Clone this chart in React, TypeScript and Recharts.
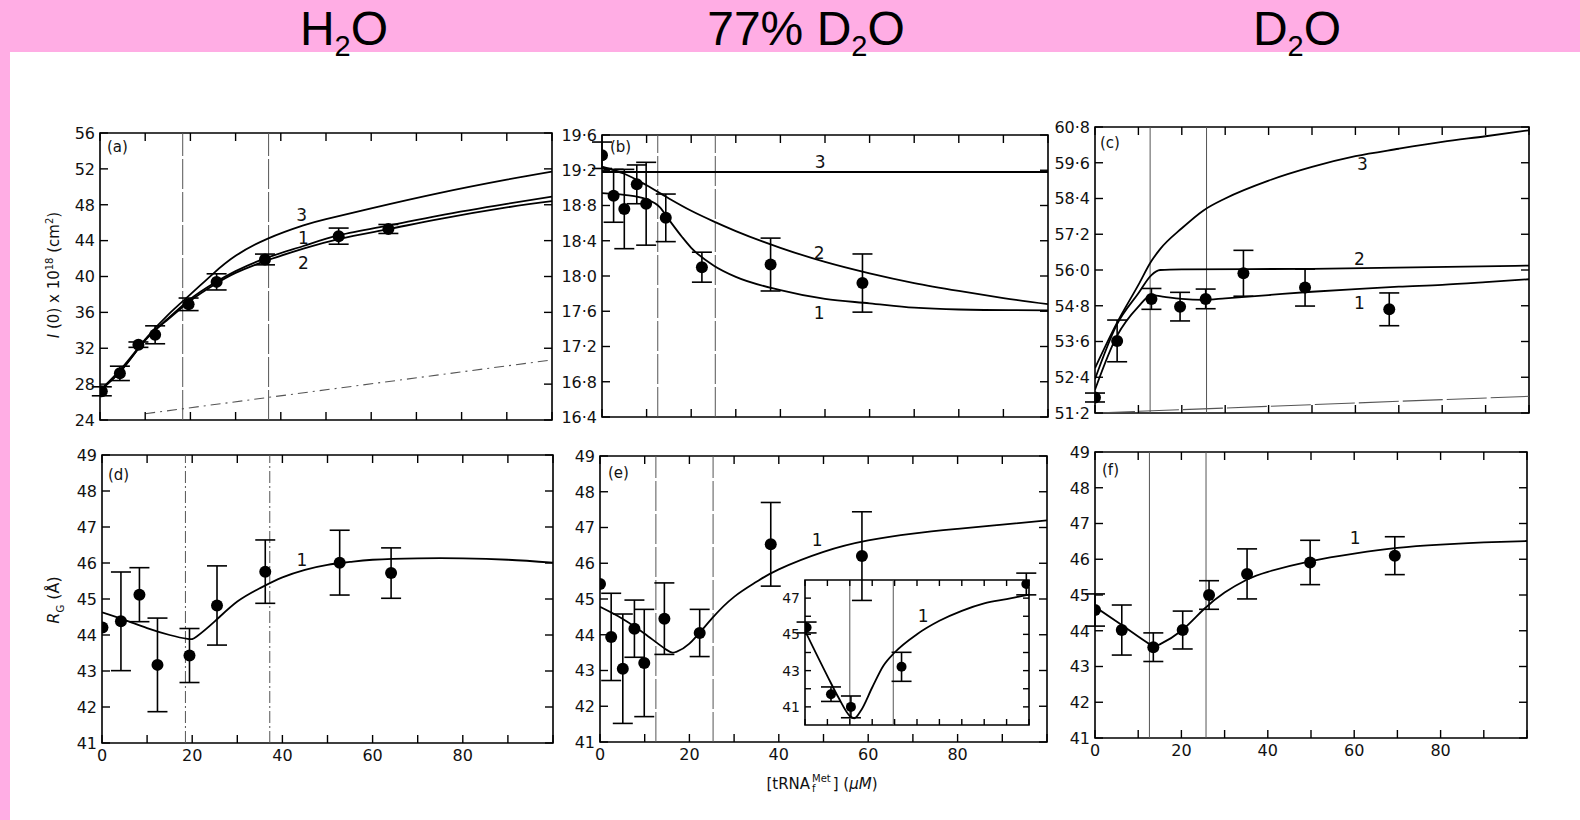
import React from 'react';
import {
  ComposedChart,
  Line,
  Scatter,
  XAxis,
  YAxis,
  ReferenceLine,
  ReferenceArea,
  ErrorBar,
} from 'recharts';

const PINK = '#ffade4';
const FONT = '"DejaVu Sans", sans-serif';

// x axis: [tRNA] in µM
const xTicks = [0, 10, 20, 30, 40, 50, 60, 70, 80, 90, 100];
const xLabelTicks = [0, 20, 40, 60, 80];

// y ticks
const yTicksA = [24, 28, 32, 36, 40, 44, 48, 52, 56];
const yTicksB = [16.4, 16.8, 17.2, 17.6, 18.0, 18.4, 18.8, 19.2, 19.6];
const yTicksC = [51.2, 52.4, 53.6, 54.8, 56.0, 57.2, 58.4, 59.6, 60.8];
const yTicksRg = [41, 42, 43, 44, 45, 46, 47, 48, 49];

// (a) H2O, I(0)
const pointsA = [
  { x: 0.4, y: 27.2, e: 0.5 },
  { x: 4.4, y: 29.2, e: 0.8 },
  { x: 8.5, y: 32.4, e: 0.3 },
  { x: 12.2, y: 33.5, e: 1.0 },
  { x: 19.6, y: 36.9, e: 0.7 },
  { x: 25.8, y: 39.4, e: 0.9 },
  { x: 36.5, y: 41.9, e: 0.6 },
  { x: 52.8, y: 44.5, e: 0.9 },
  { x: 63.8, y: 45.3, e: 0.5 },
];
const curveA1 = [
  { x: 0, y: 27.3 }, { x: 5, y: 29.7 }, { x: 10, y: 32.9 }, { x: 15, y: 35.3 },
  { x: 20, y: 37.5 }, { x: 25, y: 39.2 }, { x: 30, y: 40.6 }, { x: 37, y: 42.1 },
  { x: 45, y: 43.4 }, { x: 53, y: 44.6 }, { x: 64, y: 45.7 }, { x: 75, y: 46.8 },
  { x: 90, y: 48.1 }, { x: 100, y: 48.9 },
];
const curveA2 = [
  { x: 0, y: 27.3 }, { x: 5, y: 29.7 }, { x: 10, y: 32.9 }, { x: 15, y: 35.2 },
  { x: 20, y: 37.3 }, { x: 25, y: 39.0 }, { x: 30, y: 40.4 }, { x: 37, y: 41.8 },
  { x: 45, y: 43.1 }, { x: 53, y: 44.2 }, { x: 64, y: 45.3 }, { x: 75, y: 46.4 },
  { x: 90, y: 47.7 }, { x: 100, y: 48.4 },
];
const curveA3 = [
  { x: 0, y: 27.3 }, { x: 5, y: 29.9 }, { x: 10, y: 33.0 }, { x: 15, y: 35.7 },
  { x: 20, y: 38.0 }, { x: 25, y: 40.3 }, { x: 30, y: 42.3 }, { x: 37, y: 44.2 },
  { x: 45, y: 45.7 }, { x: 50, y: 46.4 }, { x: 60, y: 47.6 }, { x: 75, y: 49.3 },
  { x: 90, y: 50.8 }, { x: 100, y: 51.7 },
];
const baseA = [{ x: 10, y: 24.7 }, { x: 100, y: 30.7 }];
const vlinesA = [18.3, 37.3];
const labelsA = [
  { x: 44.6, y: 46.9, t: '3' },
  { x: 45, y: 44.3, t: '1' },
  { x: 45, y: 41.5, t: '2' },
];

// (b) 77% D2O, I(0)
const pointsB = [
  { x: 0, y: 19.37, e: 0.15 },
  { x: 2.6, y: 18.91, e: 0.3 },
  { x: 5.0, y: 18.76, e: 0.45 },
  { x: 7.8, y: 19.04, e: 0.22 },
  { x: 9.9, y: 18.82, e: 0.47 },
  { x: 14.3, y: 18.66, e: 0.27 },
  { x: 22.4, y: 18.1, e: 0.17 },
  { x: 37.8, y: 18.13, e: 0.3 },
  { x: 58.4, y: 17.92, e: 0.33 },
];
const curveB1 = [
  { x: 0, y: 18.94 }, { x: 5, y: 18.92 }, { x: 10, y: 18.87 }, { x: 13, y: 18.78 },
  { x: 15, y: 18.64 }, { x: 18, y: 18.44 }, { x: 20, y: 18.32 }, { x: 25, y: 18.12 },
  { x: 30, y: 17.99 }, { x: 40, y: 17.84 }, { x: 50, y: 17.74 }, { x: 60, y: 17.69 },
  { x: 70, y: 17.64 }, { x: 80, y: 17.62 }, { x: 100, y: 17.61 },
];
const curveB2 = [
  { x: 0, y: 19.24 }, { x: 5, y: 19.16 }, { x: 10, y: 19.03 }, { x: 15, y: 18.88 },
  { x: 20, y: 18.74 }, { x: 25, y: 18.62 }, { x: 30, y: 18.51 }, { x: 40, y: 18.32 },
  { x: 50, y: 18.16 }, { x: 60, y: 18.03 }, { x: 70, y: 17.92 }, { x: 80, y: 17.83 },
  { x: 90, y: 17.75 }, { x: 100, y: 17.68 },
];
const curveB3 = [{ x: 0, y: 19.18 }, { x: 100, y: 19.18 }];
const vlinesB = [12.5, 25.4];
const labelsB = [
  { x: 48.9, y: 19.3, t: '3' },
  { x: 48.7, y: 18.26, t: '2' },
  { x: 48.7, y: 17.58, t: '1' },
];

// (c) D2O, I(0)
const pointsC = [
  { x: 0, y: 51.72, e: 0.15 },
  { x: 5.1, y: 53.62, e: 0.7 },
  { x: 13.0, y: 55.03, e: 0.35 },
  { x: 19.6, y: 54.77, e: 0.48 },
  { x: 25.5, y: 55.03, e: 0.33 },
  { x: 34.2, y: 55.89, e: 0.77 },
  { x: 48.4, y: 55.41, e: 0.62 },
  { x: 67.8, y: 54.68, e: 0.55 },
];
const curveC1 = [
  { x: 0, y: 51.98 }, { x: 5, y: 53.77 }, { x: 10, y: 54.77 }, { x: 13, y: 55.16 },
  { x: 16, y: 55.1 }, { x: 20, y: 55.03 }, { x: 25, y: 55.0 }, { x: 30, y: 55.05 },
  { x: 40, y: 55.16 }, { x: 50, y: 55.27 }, { x: 60, y: 55.36 }, { x: 70, y: 55.44 },
  { x: 80, y: 55.5 }, { x: 90, y: 55.59 }, { x: 100, y: 55.69 },
];
const curveC2 = [
  { x: 0, y: 52.34 }, { x: 5, y: 54.16 }, { x: 10, y: 55.22 }, { x: 13, y: 55.83 },
  { x: 15, y: 56.0 }, { x: 20, y: 56.02 }, { x: 50, y: 56.04 }, { x: 100, y: 56.15 },
];
const curveC3 = [
  { x: 0, y: 52.71 }, { x: 5, y: 54.21 }, { x: 10, y: 55.5 }, { x: 13, y: 56.3 },
  { x: 15, y: 56.7 }, { x: 20, y: 57.4 }, { x: 25, y: 58.0 }, { x: 30, y: 58.4 },
  { x: 40, y: 59.0 }, { x: 50, y: 59.46 }, { x: 60, y: 59.82 }, { x: 70, y: 60.07 },
  { x: 80, y: 60.3 }, { x: 90, y: 60.49 }, { x: 100, y: 60.69 },
];
const baseC = [{ x: 0, y: 51.2 }, { x: 100, y: 51.76 }];
const vlinesC = [12.7, 25.7];
const labelsC = [
  { x: 61.6, y: 59.57, t: '3' },
  { x: 60.9, y: 56.36, t: '2' },
  { x: 60.9, y: 54.88, t: '1' },
];

// (d) H2O, Rg
const pointsD = [
  { x: 0.1, y: 44.21, e: 0 },
  { x: 4.2, y: 44.38, e: 1.37 },
  { x: 8.3, y: 45.12, e: 0.75 },
  { x: 12.3, y: 43.17, e: 1.3 },
  { x: 19.4, y: 43.43, e: 0.75 },
  { x: 25.5, y: 44.82, e: 1.1 },
  { x: 36.2, y: 45.76, e: 0.88 },
  { x: 52.7, y: 46.01, e: 0.9 },
  { x: 64.1, y: 45.72, e: 0.7 },
];
const curveD = [
  { x: 0, y: 44.63 }, { x: 5, y: 44.42 }, { x: 10, y: 44.19 }, { x: 15, y: 44.0 },
  { x: 19, y: 43.89 }, { x: 21, y: 43.96 }, { x: 25, y: 44.38 }, { x: 30, y: 44.93 },
  { x: 35, y: 45.3 }, { x: 40, y: 45.6 }, { x: 45, y: 45.81 }, { x: 50, y: 45.95 },
  { x: 55, y: 46.03 }, { x: 60, y: 46.09 }, { x: 70, y: 46.13 }, { x: 80, y: 46.13 },
  { x: 90, y: 46.09 }, { x: 100, y: 46.01 },
];
const vlinesD = [18.5, 37.2];
const labelsD = [{ x: 44.3, y: 46.1, t: '1' }];

// (e) 77% D2O, Rg
const pointsE = [
  { x: 0, y: 45.42, e: 0 },
  { x: 2.5, y: 43.94, e: 1.22 },
  { x: 5.1, y: 43.05, e: 1.53 },
  { x: 7.7, y: 44.17, e: 0.8 },
  { x: 9.9, y: 43.21, e: 1.5 },
  { x: 14.4, y: 44.45, e: 1.0 },
  { x: 22.3, y: 44.05, e: 0.66 },
  { x: 38.2, y: 46.53, e: 1.17 },
  { x: 58.6, y: 46.2, e: 1.24 },
];
const curveE = [
  { x: 0, y: 44.78 }, { x: 5, y: 44.45 }, { x: 10, y: 44.03 }, { x: 15, y: 43.57 },
  { x: 17, y: 43.52 }, { x: 20, y: 43.75 }, { x: 25, y: 44.45 }, { x: 30, y: 45.06 },
  { x: 35, y: 45.48 }, { x: 40, y: 45.83 }, { x: 50, y: 46.32 }, { x: 60, y: 46.64 },
  { x: 70, y: 46.83 }, { x: 80, y: 46.96 }, { x: 90, y: 47.08 }, { x: 100, y: 47.2 },
];
const vlinesE = [12.5, 25.3];
const labelsE = [{ x: 48.6, y: 46.65, t: '1' }];

// (e) inset
const insetXTicks = [0, 1, 2, 3, 4, 5, 6, 7, 8, 9, 10];
const insetYTicks = [41, 42, 43, 44, 45, 46, 47];
const insetYLabels = [41, 43, 45, 47];
const pointsInset = [
  { x: 0.07, y: 45.38, e: 0.3 },
  { x: 1.16, y: 41.7, e: 0.4 },
  { x: 2.05, y: 41.0, e: 0.6 },
  { x: 4.31, y: 43.21, e: 0.8 },
  { x: 9.88, y: 47.78, e: 0.6 },
];
const curveInset = [
  { x: 0, y: 45.2 }, { x: 1, y: 42.7 }, { x: 1.5, y: 41.5 }, { x: 2, y: 40.5 },
  { x: 2.2, y: 40.37 }, { x: 2.5, y: 40.8 }, { x: 3, y: 42.07 }, { x: 3.5, y: 43.27 },
  { x: 4, y: 44.0 }, { x: 5, y: 45.01 }, { x: 6, y: 45.75 }, { x: 7, y: 46.3 },
  { x: 8, y: 46.71 }, { x: 9, y: 46.95 }, { x: 10, y: 47.19 },
];
const vlinesInset = [2.0, 3.94];
const labelsInset = [{ x: 5.27, y: 46.03, t: '1' }];

// (f) D2O, Rg
const pointsF = [
  { x: 0, y: 44.58, e: 0.45 },
  { x: 6.2, y: 44.02, e: 0.7 },
  { x: 13.5, y: 43.54, e: 0.4 },
  { x: 20.3, y: 44.02, e: 0.53 },
  { x: 26.4, y: 45.0, e: 0.4 },
  { x: 35.2, y: 45.59, e: 0.7 },
  { x: 49.8, y: 45.91, e: 0.62 },
  { x: 69.4, y: 46.1, e: 0.53 },
];
const curveF = [
  { x: 0, y: 44.67 }, { x: 5, y: 44.26 }, { x: 10, y: 43.84 }, { x: 13, y: 43.6 },
  { x: 15, y: 43.62 }, { x: 20, y: 44.0 }, { x: 25, y: 44.58 }, { x: 30, y: 45.07 },
  { x: 35, y: 45.42 }, { x: 40, y: 45.65 }, { x: 50, y: 45.95 }, { x: 60, y: 46.16 },
  { x: 70, y: 46.32 }, { x: 80, y: 46.41 }, { x: 90, y: 46.47 }, { x: 100, y: 46.51 },
];
const vlinesF = [12.6, 25.7];
const labelsF = [{ x: 60.2, y: 46.6, t: '1' }];

type XY = { x: number; y: number };
type Pt = { x: number; y: number; e?: number };

interface PanelProps {
  left: number;
  top: number;
  w: number;
  h: number;
  yDomain: [number, number];
  yTicks: number[];
  yLabels?: number[];
  fmt: (v: number) => string;
  points: Pt[];
  curves: XY[][];
  curveType?: 'monotone' | 'natural';
  base?: XY[];
  baseDash?: string;
  vlines: number[];
  vlineDash?: string;
  labels: { x: number; y: number; t: string }[];
  xDomain?: [number, number];
  ticksX?: number[];
  xLabels?: number[];
  tickLen?: number;
  fontSize?: number;
  dotR?: number;
  axisW?: number;
}

const fmtInt = (v: number) => String(v);
const fmtDot = (v: number) => v.toFixed(1).replace('.', '·');

function Panel({
  left, top, w, h, yDomain, yTicks, yLabels, fmt, points, curves, curveType = 'monotone',
  base, baseDash = '8 4', vlines, vlineDash, labels, xDomain = [0, 100], ticksX = xTicks,
  xLabels = [], tickLen = 8, fontSize = 16, dotR = 6, axisW = 60,
}: PanelProps) {
  const mt = 8;
  const mr = 8;
  const axisH = 30;

  const yTick = (p: any) => {
    const v = p.payload.value;
    const show = !yLabels || yLabels.includes(v);
    return (
      <g>
        <line x1={p.x} y1={p.y} x2={p.x + tickLen} y2={p.y} stroke="#000" strokeWidth={1.4} />
        <line x1={p.x + w - tickLen} y1={p.y} x2={p.x + w} y2={p.y} stroke="#000" strokeWidth={1.4} />
        {show && (
          <text x={p.x - 5} y={p.y} dy="0.36em" textAnchor="end" fontSize={fontSize} fontFamily={FONT} fill="#111">
            {fmt(v)}
          </text>
        )}
      </g>
    );
  };

  const xTick = (p: any) => {
    const v = p.payload.value;
    return (
      <g>
        <line x1={p.x} y1={p.y} x2={p.x} y2={p.y - tickLen} stroke="#000" strokeWidth={1.4} />
        <line x1={p.x} y1={p.y - h} x2={p.x} y2={p.y - h + tickLen} stroke="#000" strokeWidth={1.4} />
        {xLabels.includes(v) && (
          <text x={p.x} y={p.y + 18} textAnchor="middle" fontSize={fontSize} fontFamily={FONT} fill="#111">
            {v}
          </text>
        )}
      </g>
    );
  };

  const dot = (p: any) => <circle cx={p.cx} cy={p.cy} r={dotR} fill="#000" />;
  const label = (p: any) => (
    <text x={p.cx} y={p.cy} dy="0.36em" textAnchor="middle" fontSize={17} fontFamily={FONT} fill="#111">
      {p.payload.t}
    </text>
  );

  return (
    <div style={{ position: 'absolute', left: left - axisW, top: top - mt }}>
      <ComposedChart
        width={w + axisW + mr}
        height={h + mt + axisH}
        margin={{ top: mt, right: mr, bottom: 0, left: 0 }}
      >
        <XAxis
          type="number"
          dataKey="x"
          domain={xDomain}
          ticks={ticksX}
          interval={0}
          allowDataOverflow
          height={axisH}
          tick={xTick}
          tickLine={false}
          axisLine={false}
          tickSize={0}
          tickMargin={0}
        />
        <YAxis
          type="number"
          dataKey="y"
          domain={yDomain}
          ticks={yTicks}
          interval={0}
          allowDataOverflow
          width={axisW}
          tick={yTick}
          tickLine={false}
          axisLine={false}
          tickSize={0}
          tickMargin={0}
        />
        <ReferenceArea
          x1={xDomain[0]}
          x2={xDomain[1]}
          y1={yDomain[0]}
          y2={yDomain[1]}
          fill="none"
          fillOpacity={0}
          stroke="#000"
          strokeWidth={1.6}
        />
        {vlines.map((v) => (
          <ReferenceLine key={v} x={v} stroke="#555" strokeWidth={1} strokeDasharray={vlineDash} />
        ))}
        {base && (
          <Line
            data={base}
            dataKey="y"
            type="linear"
            stroke="#555"
            strokeWidth={1.1}
            strokeDasharray={baseDash}
            dot={false}
            isAnimationActive={false}
          />
        )}
        {curves.map((c, i) => (
          <Line
            key={i}
            data={c}
            dataKey="y"
            type={curveType}
            stroke="#000"
            strokeWidth={1.8}
            dot={false}
            isAnimationActive={false}
          />
        ))}
        <Scatter data={points} shape={dot} isAnimationActive={false}>
          <ErrorBar dataKey="e" direction="y" width={10} stroke="#000" strokeWidth={1.6} />
        </Scatter>
        <Scatter data={labels} shape={label} isAnimationActive={false} />
      </ComposedChart>
    </div>
  );
}

const abs = (left: number, top: number, extra: React.CSSProperties = {}): React.CSSProperties => ({
  position: 'absolute',
  left,
  top,
  fontFamily: FONT,
  color: '#111',
  whiteSpace: 'nowrap',
  ...extra,
});

const sub2: React.CSSProperties = { fontSize: 29, position: 'relative', top: 11 };

export default function App() {
  const headStyle: React.CSSProperties = {
    position: 'absolute',
    top: 5,
    width: 400,
    textAlign: 'center',
    fontFamily: '"Liberation Sans", Arial, sans-serif',
    fontSize: 48,
    lineHeight: '48px',
    color: '#000',
  };
  return (
    <div style={{ position: 'absolute', left: 0, top: 0, width: 1580, height: 820, background: '#fff', overflow: 'hidden' }}>
      <div style={{ position: 'absolute', left: 0, top: 0, width: 1580, height: 52, background: PINK }} />
      <div style={{ position: 'absolute', left: 0, top: 0, width: 10, height: 820, background: PINK }} />
      <div style={{ ...headStyle, left: 344 - 200 }}>
        H<span style={sub2}>2</span>O
      </div>
      <div style={{ ...headStyle, left: 806 - 200 }}>
        77% D<span style={sub2}>2</span>O
      </div>
      <div style={{ ...headStyle, left: 1297 - 200 }}>
        D<span style={sub2}>2</span>O
      </div>

      <Panel left={100} top={133} w={452} h={287} yDomain={[24, 56]} yTicks={yTicksA} fmt={fmtInt}
        points={pointsA} curves={[curveA1, curveA2, curveA3]} curveType="natural" base={baseA}
        baseDash="10 5 2 5" vlines={vlinesA} vlineDash="30 3" labels={labelsA} />
      <Panel left={602} top={135} w={446} h={282} yDomain={[16.4, 19.6]} yTicks={yTicksB} fmt={fmtDot}
        points={pointsB} curves={[curveB1, curveB2, curveB3]}
        vlines={vlinesB} vlineDash="30 3" labels={labelsB} />
      <Panel left={1095} top={127} w={434} h={286} yDomain={[51.2, 60.8]} yTicks={yTicksC} fmt={fmtDot}
        points={pointsC} curves={[curveC1, curveC2, curveC3]} base={baseC} baseDash="40 4"
        vlines={vlinesC} labels={labelsC} />

      <Panel left={102} top={455} w={451} h={288} yDomain={[41, 49]} yTicks={yTicksRg} fmt={fmtInt}
        points={pointsD} curves={[curveD]} curveType="natural" vlines={vlinesD} vlineDash="12 3 2 3"
        labels={labelsD} xLabels={xLabelTicks} />
      <Panel left={600} top={456} w={447} h={286} yDomain={[41, 49]} yTicks={yTicksRg} fmt={fmtInt}
        points={pointsE} curves={[curveE]} curveType="natural" vlines={vlinesE} vlineDash="30 3"
        labels={labelsE} xLabels={xLabelTicks} />
      <Panel left={805} top={580} w={224} h={145} yDomain={[40, 48]} yTicks={insetYTicks} yLabels={insetYLabels}
        fmt={fmtInt} points={pointsInset} curves={[curveInset]} vlines={vlinesInset} labels={labelsInset}
        xDomain={[0, 10]} ticksX={insetXTicks} tickLen={6} fontSize={14} dotR={5} axisW={36} />
      <Panel left={1095} top={452} w={432} h={286} yDomain={[41, 49]} yTicks={yTicksRg} fmt={fmtInt}
        points={pointsF} curves={[curveF]} curveType="natural" vlines={vlinesF} labels={labelsF}
        xLabels={xLabelTicks} />

      <div style={abs(107, 138, { fontSize: 15 })}>(a)</div>
      <div style={abs(610, 138, { fontSize: 15 })}>(b)</div>
      <div style={abs(1100, 134, { fontSize: 15 })}>(c)</div>
      <div style={abs(108, 466, { fontSize: 15 })}>(d)</div>
      <div style={abs(608, 464, { fontSize: 15 })}>(e)</div>
      <div style={abs(1102, 461, { fontSize: 15 })}>(f)</div>

      <div style={abs(53, 275, { fontSize: 15, transform: 'translate(-50%, -50%) rotate(-90deg)' })}>
        <i>I</i> (0) x 10<sup style={{ fontSize: 10 }}>18</sup> (cm<sup style={{ fontSize: 10 }}>2</sup>)
      </div>
      <div style={abs(55, 600, { fontSize: 16, transform: 'translate(-50%, -50%) rotate(-90deg)' })}>
        <i>R</i><sub style={{ fontSize: 10 }}>G</sub> (Å)
      </div>
      <div style={abs(822, 784, { fontSize: 15, transform: 'translate(-50%, -50%)' })}>
        [tRNA
        <span style={{ display: 'inline-flex', flexDirection: 'column', fontSize: 10, lineHeight: '10px', verticalAlign: 'middle', margin: '0 2px' }}>
          <span>Met</span>
          <span>f</span>
        </span>
        ] (<i>μM</i>)
      </div>
    </div>
  );
}
